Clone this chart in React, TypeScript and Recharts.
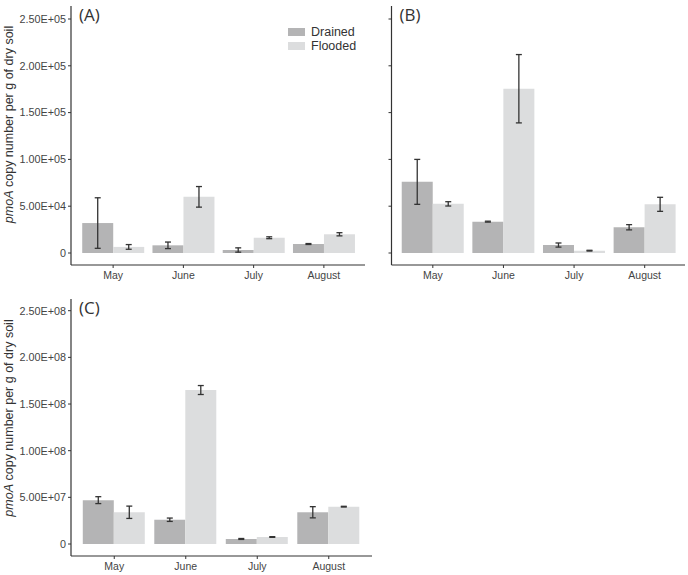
import { Bar, BarChart, ErrorBar, Legend, XAxis, YAxis } from "recharts"

const months = ["May", "June", "July", "August"]

// (A) soil, copies per g dry soil
const aDrained = [32000, 8200, 3200, 9600]
const aDrainedErr = [27000, 3500, 2300, 500]
const aFlooded = [6500, 60000, 16300, 20000]
const aFloodedErr = [2500, 11000, 1000, 1700]

// (B)
const bDrained = [76000, 33500, 8500, 27500]
const bDrainedErr = [24000, 500, 2200, 2800]
const bFlooded = [52500, 175500, 2500, 52000]
const bFloodedErr = [2300, 36500, 400, 7500]

// (C)
const cDrained = [47000000, 26000000, 5400000, 34000000]
const cDrainedErr = [3700000, 1800000, 500000, 6000000]
const cFlooded = [34000000, 165000000, 7500000, 40000000]
const cFloodedErr = [6600000, 4800000, 400000, 400000]

const ticksE5 = [0, 50000, 100000, 150000, 200000, 250000]
const ticksE8 = [0, 50000000, 100000000, 150000000, 200000000, 250000000]
const labelsE5 = ["0", "5.00E+04", "1.00E+05", "1.50E+05", "2.00E+05", "2.50E+05"]
const labelsE8 = ["0", "5.00E+07", "1.00E+08", "1.50E+08", "2.00E+08", "2.50E+08"]

const DRAINED = "#b4b4b5"
const FLOODED = "#dcddde"
const INK = "#333333"
const FONT = "'Liberation Sans', Arial, sans-serif"

const rows = (d: number[], de: number[], f: number[], fe: number[]) =>
  months.map((m, i) => ({ month: m, drained: d[i], drainedErr: de[i], flooded: f[i], floodedErr: fe[i] }))

type PanelProps = {
  letter: string
  data: ReturnType<typeof rows>
  left: number
  top: number
  width: number
  height: number
  marginTop: number
  marginRight: number
  axisWidth: number
  xAxisHeight: number
  padLeft: number
  padRight: number
  domain: [number, number]
  ticks: number[]
  tickLabels?: string[]
  yTitleCenter?: number
  legend?: boolean
}

const renderLegend = (props: any) => (
  <div style={{ fontFamily: FONT, fontSize: 12.5, color: INK, lineHeight: "14px" }}>
    {(props.payload || []).map((e: any) => (
      <div key={e.value} style={{ display: "flex", alignItems: "center", height: 14 }}>
        <span style={{ display: "inline-block", width: 17, height: 8, background: e.color, marginRight: 6 }} />
        <span>{e.value}</span>
      </div>
    ))}
  </div>
)

function Panel(p: PanelProps) {
  const yTitle = () =>
    p.yTitleCenter === undefined ? null : (
      <text
        transform={`translate(13, ${p.yTitleCenter}) rotate(-90)`}
        textAnchor="middle"
        fontSize={12.5}
        fill={INK}
        fontFamily={FONT}
      >
        <tspan fontStyle="italic">pmoA</tspan> copy number per g of dry soil
      </text>
    )

  return (
    <div style={{ position: "absolute", left: p.left, top: p.top }}>
      <BarChart
        width={p.width}
        height={p.height}
        data={p.data}
        margin={{ top: p.marginTop, right: p.marginRight, bottom: 0, left: 0 }}
        barCategoryGap="6%"
        barGap={0}
      >
        <XAxis
          dataKey="month"
          height={p.xAxisHeight}
          padding={{ left: p.padLeft, right: p.padRight }}
          tickSize={3}
          tickMargin={4}
          tick={{ fontSize: 10.5, fill: "#444", fontFamily: FONT }}
          axisLine={{ stroke: INK, strokeWidth: 1.2 }}
          tickLine={{ stroke: INK }}
        />
        <YAxis
          width={p.axisWidth}
          domain={p.domain}
          ticks={p.ticks}
          allowDataOverflow
          tickSize={3}
          tickMargin={2}
          tickFormatter={(v: number) => (p.tickLabels ? p.tickLabels[p.ticks.indexOf(v)] : "")}
          tick={{ fontSize: 10.8, fill: "#444", fontFamily: FONT }}
          axisLine={{ stroke: INK, strokeWidth: 1.2 }}
          tickLine={{ stroke: INK }}
          label={{ content: yTitle }}
        />
        <Bar dataKey="drained" name="Drained" fill={DRAINED} isAnimationActive={false}>
          <ErrorBar dataKey="drainedErr" width={3} stroke={INK} strokeWidth={1.3} isAnimationActive={false} />
        </Bar>
        <Bar dataKey="flooded" name="Flooded" fill={FLOODED} isAnimationActive={false}>
          <ErrorBar dataKey="floodedErr" width={3} stroke={INK} strokeWidth={1.3} isAnimationActive={false} />
        </Bar>
        {p.legend && (
          <Legend
            layout="vertical"
            align="center"
            verticalAlign="middle"
            content={renderLegend}
            wrapperStyle={{ top: 25, left: 288, width: 80 }}
          />
        )}
        <text
          x={p.axisWidth + 8}
          y={p.marginTop + 15}
          fontSize={17}
          fill={INK}
          fontFamily="'Open Sans', sans-serif"
        >
          {p.letter}
        </text>
      </BarChart>
    </div>
  )
}

// units per pixel on the shared y scale of panels A and B, and of panel C
const kE5 = 250000 / 234
const kE8 = 250000000 / 233.3

export default function App() {
  return (
    <div style={{ position: "absolute", left: 0, top: 0, width: 688, height: 575, background: "#fff", overflow: "hidden" }}>
      <Panel
        letter="(A)"
        data={rows(aDrained, aDrainedErr, aFlooded, aFloodedErr)}
        left={0}
        top={0}
        width={370}
        height={285}
        marginTop={6}
        marginRight={5}
        axisWidth={71}
        xAxisHeight={20}
        padLeft={7}
        padRight={6}
        domain={[-12 * kE5, 250000 + 13 * kE5]}
        ticks={ticksE5}
        tickLabels={labelsE5}
        yTitleCenter={124.5}
        legend
      />
      <Panel
        letter="(B)"
        data={rows(bDrained, bDrainedErr, bFlooded, bFloodedErr)}
        left={370}
        top={0}
        width={318}
        height={285}
        marginTop={6}
        marginRight={3}
        axisWidth={21.5}
        xAxisHeight={20}
        padLeft={6}
        padRight={5}
        domain={[-12 * kE5, 250000 + 13 * kE5]}
        ticks={ticksE5}
      />
      <Panel
        letter="(C)"
        data={rows(cDrained, cDrainedErr, cFlooded, cFloodedErr)}
        left={0}
        top={292}
        width={380}
        height={281}
        marginTop={7}
        marginRight={8}
        axisWidth={71}
        xAxisHeight={17}
        padLeft={7.5}
        padRight={7.5}
        domain={[-12 * kE8, 250000000 + 11.7 * kE8]}
        ticks={ticksE8}
        tickLabels={labelsE8}
        yTitleCenter={126}
      />
    </div>
  )
}
